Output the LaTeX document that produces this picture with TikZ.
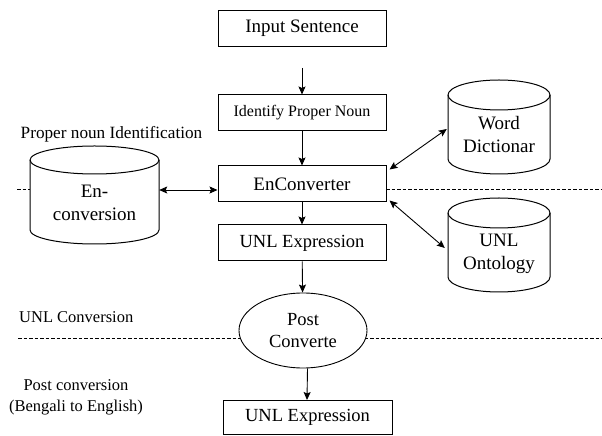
\documentclass[tikz,border=0pt]{standalone}
\usepackage{fontspec}
\setmainfont{Liberation Serif}[Ligatures=TeX]
\usetikzlibrary{arrows.meta,shapes.geometric}

% cylinder drawn as a closed path: #1 centre x, #2 top y, #3 bottom y, #4 x radius, #5 y radius
\newcommand\drumbody[5]{%
  \draw[cylline,fill=white]
    (#1-#4,#2-#5) -- (#1-#4,#3+#5)
    arc[start angle=180,end angle=360,x radius=#4,y radius=#5]
    -- (#1+#4,#2-#5)
    arc[start angle=0,end angle=180,x radius=#4,y radius=#5] -- cycle;
  \draw[cylline] (#1-#4,#2-#5)
    arc[start angle=180,end angle=360,x radius=#4,y radius=#5];
}

\begin{document}
\begin{tikzpicture}[x=1pt,y=1pt,
  stepbox/.style={draw,line width=1pt,fill=white,minimum width=168pt,
    minimum height=36pt,inner sep=0pt,font=\rmfamily\fontsize{18.5}{21}\selectfont},
  cylline/.style={line width=1pt},
  cylarea/.style={draw=none,inner sep=0pt},
  cyltext/.style={align=center,inner sep=0pt,font=\rmfamily\fontsize{19}{23}\selectfont},
  sidetext/.style={inner sep=0pt,font=\rmfamily\fontsize{16.5}{21}\selectfont},
  flow/.style={line width=0.9pt,-{Stealth[length=8pt,width=7pt,inset=1.5pt]}},
  twoway/.style={line width=0.9pt,{Stealth[length=8pt,width=7pt,inset=1.5pt]}-{Stealth[length=8pt,width=7pt,inset=1.5pt]}},
  divider/.style={line width=0.8pt,dash pattern=on 3.5pt off 2pt}]

\useasboundingbox (0,0) rectangle (602,436);

% stage dividers
\draw[divider] (17,247) -- (31,247);
\draw[divider] (386,247) -- (602,247);
\draw[divider] (18,98) -- (602,98);

% cylinders
\drumbody{94.5}{290}{192}{64.5}{14}
\node[cylarea,minimum width=129pt,minimum height=98pt] (ecv) at (94.5,241) {};
\node[cyltext] (ecvtext) at (94.5,233) {En-\\conversion};

\drumbody{499}{356}{262}{51}{15}
\node[cylarea,minimum width=102pt,minimum height=94pt] (wd) at (499,309) {};
\node[cyltext] (wdtext) at (499,301) {Word\\Dictionar};

\drumbody{499}{238}{144}{51}{15}
\node[cylarea,minimum width=102pt,minimum height=94pt] (uo) at (499,191) {};
\node[cyltext] (uotext) at (499,182) {UNL\\Ontology};

% main pipeline
\node[stepbox,font=\rmfamily\fontsize{19}{21}\selectfont] (in) at (302,407.5) {Input Sentence};
\node[stepbox,font=\rmfamily\fontsize{16}{19}\selectfont] (ipn) at (302,323) {Identify Proper Noun};
\node[stepbox,font=\rmfamily\fontsize{19}{21}\selectfont] (enc) at (302,252) {EnConverter};
\node[stepbox] (unl1) at (302,193) {UNL Expression};
\node[draw,ellipse,line width=0.9pt,fill=white,minimum width=128pt,minimum height=75pt,
  inner sep=0pt,align=center,font=\rmfamily\fontsize{18.5}{22}\selectfont] (post) at (303,105.5)
  {Post\\Converte};
\node[stepbox,minimum width=169pt,minimum height=34pt] (unl2) at (307.5,18.5) {UNL Expression};

% section labels
\node[sidetext,font=\rmfamily\fontsize{17.2}{21}\selectfont] (lbl1) at (111.5,302) {Proper noun Identification};
\node[sidetext,anchor=west] (lbl2) at (19,119) {UNL Conversion};
\node[sidetext,align=center] (lbl3) at (76,38.5) {Post conversion\\(Bengali to English)};

% connectors
\draw[flow] ([yshift=-21pt]in.south) -- (ipn.north);
\draw[flow] (ipn) -- (enc);
\draw[flow] (enc) -- (unl1);
\draw[flow] (unl1) -- (post);
\draw[flow] ([xshift=4.5pt]post.south) -- ([xshift=-0.5pt]unl2.north);
\draw[twoway] ([yshift=-6pt]enc.west) -- ([yshift=-6pt]enc.west -| ecv.east);
\draw[twoway] ([xshift=3pt,yshift=-4pt]enc.north east) -- ([xshift=-1pt,yshift=-2pt]wd.west);
\draw[twoway] ([xshift=3pt,yshift=2pt]enc.south east) -- ([xshift=-3pt,yshift=-3pt]uo.west);
\end{tikzpicture}
\end{document}
